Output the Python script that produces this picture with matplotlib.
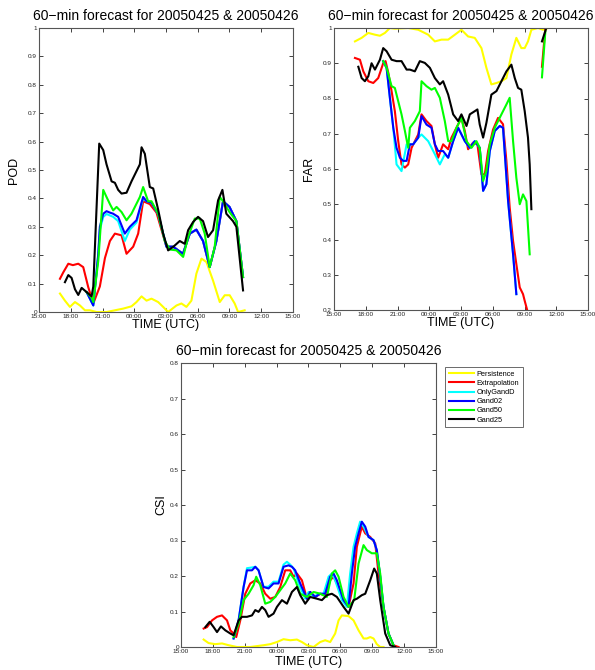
import numpy as np
import matplotlib
matplotlib.use("Agg")
import matplotlib.pyplot as plt
from matplotlib.ticker import FuncFormatter

plt.rcParams['font.family'] = ['Liberation Sans', 'DejaVu Sans']

# ---------------- data (time in hours after 15:00 UTC, 20050425) ----------------
TITLE = "60\u2212min forecast for 20050425 & 20050426"
series_names = ["Persistence", "Extrapolation", "OnlyGandD", "Gand02", "Gand50", "Gand25"]
series_colors = ["#ffff00", "#ff0000", "#00ffff", "#0000ff", "#00ff00", "#000000"]
xtick_hours = [0, 3, 6, 9, 12, 15, 18, 21, 24]
xtick_labels = ["15:00", "18:00", "21:00", "00:00", "03:00", "06:00", "09:00", "12:00", "15:00"]

# ---- POD ----
pod_pers_t = [1.98, 2.45, 2.92, 3.40, 3.87, 4.34, 4.81, 5.44, 6.38, 7.17, 7.96, 8.74, 9.21, 9.69, 10.16, 10.63,
              11.26, 11.73, 12.20, 12.99, 13.46, 13.93, 14.40, 14.87, 15.35, 15.82, 16.45, 17.08, 17.55, 18.02,
              18.49, 18.81, 19.43]
pod_pers_v = [0.065, 0.040, 0.018, 0.035, 0.023, 0.006, 0.006, 0.0, 0.0, 0.006, 0.012, 0.020, 0.035, 0.055, 0.040,
              0.047, 0.035, 0.018, 0.0, 0.023, 0.030, 0.018, 0.040, 0.135, 0.188, 0.176, 0.110, 0.035, 0.059, 0.059,
              0.030, 0.0, 0.006]
pod_extr_t = [1.98, 2.30, 2.77, 3.20, 3.71, 4.18, 4.65, 5.13, 5.75, 6.23, 6.70, 7.17, 7.80, 8.27, 8.90, 9.37, 9.84,
              10.47, 11.10, 12.04, 12.67, 13.60, 14.25, 14.87, 15.50, 16.13, 16.76, 17.39, 18.00, 18.65, 19.28]
pod_extr_v = [0.117, 0.140, 0.170, 0.165, 0.170, 0.158, 0.088, 0.030, 0.090, 0.190, 0.250, 0.276, 0.270, 0.205,
              0.230, 0.276, 0.390, 0.380, 0.350, 0.230, 0.230, 0.205, 0.276, 0.290, 0.250, 0.158, 0.250, 0.390,
              0.370, 0.320, 0.123]
pod_only_t = [4.50, 5.13, 5.60, 5.75, 6.07, 6.38, 6.70, 7.01, 7.48, 8.11, 8.58, 9.21, 9.84, 10.16, 10.63, 11.26,
              12.04, 12.67, 13.60, 14.25, 14.87, 15.50, 16.13, 16.76, 17.39, 18.00, 18.65, 19.28]
pod_only_v = [0.070, 0.023, 0.200, 0.290, 0.335, 0.345, 0.340, 0.335, 0.320, 0.250, 0.290, 0.315, 0.400, 0.390,
              0.385, 0.345, 0.230, 0.230, 0.205, 0.276, 0.290, 0.250, 0.158, 0.250, 0.390, 0.370, 0.320, 0.123]
pod_g02_t = [4.50, 5.13, 5.60, 5.75, 6.07, 6.38, 6.70, 7.01, 7.48, 8.11, 8.58, 9.21, 9.84, 10.16, 10.63, 11.26,
             12.04, 12.67, 13.60, 14.25, 14.87, 15.50, 16.13, 16.76, 17.39, 18.00, 18.65, 19.28]
pod_g02_v = [0.070, 0.023, 0.205, 0.300, 0.346, 0.355, 0.350, 0.346, 0.335, 0.276, 0.300, 0.323, 0.405, 0.390,
             0.385, 0.345, 0.230, 0.230, 0.205, 0.276, 0.290, 0.250, 0.158, 0.250, 0.390, 0.370, 0.320, 0.123]
pod_g50_t = [4.50, 4.97, 5.13, 5.60, 6.07, 6.38, 6.70, 7.01, 7.33, 7.80, 8.27, 8.74, 9.53, 9.84, 10.31, 10.63,
             11.26, 11.89, 12.36, 12.99, 13.62, 14.09, 14.72, 15.19, 15.66, 16.13, 16.60, 17.08, 17.39, 18.00,
             18.65, 19.28]
pod_g50_v = [0.070, 0.050, 0.035, 0.180, 0.430, 0.405, 0.380, 0.358, 0.370, 0.352, 0.323, 0.346, 0.405, 0.440,
             0.390, 0.390, 0.346, 0.250, 0.220, 0.217, 0.194, 0.264, 0.329, 0.329, 0.276, 0.158, 0.229, 0.405,
             0.390, 0.352, 0.320, 0.123]
pod_g25_t = [2.45, 2.77, 3.08, 3.40, 3.71, 4.03, 4.50, 4.97, 5.13, 5.69, 6.07, 6.38, 6.86, 7.17, 7.48, 7.80, 8.27,
             8.74, 9.53, 9.69, 10.00, 10.47, 10.79, 11.26, 11.73, 12.20, 12.67, 13.30, 13.77, 14.09, 14.56, 15.03,
             15.50, 15.97, 16.45, 16.92, 17.33, 17.70, 18.33, 18.65, 19.28]
pod_g25_v = [0.105, 0.130, 0.120, 0.080, 0.060, 0.085, 0.070, 0.055, 0.090, 0.593, 0.570, 0.520, 0.460, 0.455,
             0.430, 0.417, 0.420, 0.460, 0.520, 0.580, 0.557, 0.440, 0.435, 0.360, 0.276, 0.217, 0.229, 0.250,
             0.240, 0.288, 0.317, 0.335, 0.320, 0.264, 0.288, 0.393, 0.430, 0.346, 0.320, 0.300, 0.076]

# ---- FAR (nan = no value) ----
far_pers_t = [1.98, 2.61, 3.24, 3.87, 4.34, 4.81, 5.28, 5.75, 7.01, 7.96, 8.90, 9.53, 10.16, 10.79, 11.42, 12.04,
              12.67, 13.30, 13.93, 14.40, 14.87, 15.35, 15.82, 16.29, 16.76, 17.23, 17.70, 18.02, 18.33, 18.65,
              19.28, 19.75, 20.22]
far_pers_v = [0.962, 0.972, 0.986, 0.981, 0.978, 0.986, 1.000, 0.998, 1.000, 0.995, 0.981, 0.962, 0.967, 0.967,
              0.981, 0.995, 0.976, 0.972, 0.943, 0.887, 0.840, 0.844, 0.849, 0.858, 0.925, 0.972, 0.943, 0.943,
              0.962, 0.995, 1.000, 0.995, 1.000]
far_extr_t = [1.98, 2.45, 2.77, 3.24, 3.71, 4.18, 4.65, 4.87, 5.13, 5.44, 5.75, 6.07, 6.38, 6.70, 7.01, 7.33, 7.64,
              7.96, 8.27, 8.74, 9.21, 9.53, 9.84, 10.31, 10.79, 11.10, 11.57, 12.04, 12.36, 12.67, 13.14, 13.55,
              13.93, 14.25, 14.56, 15.03, 15.50, 15.97, 16.29, 16.60, 16.92, 17.23, 17.55, 17.86, 18.02, 18.27,
              19.00, 19.65, 19.97]
far_extr_v = [0.915, 0.910, 0.877, 0.849, 0.844, 0.858, 0.900, 0.906, 0.873, 0.821, 0.764, 0.679, 0.613, 0.604,
              0.613, 0.660, 0.679, 0.698, 0.755, 0.736, 0.722, 0.670, 0.632, 0.670, 0.656, 0.689, 0.717, 0.745,
              0.708, 0.656, 0.675, 0.670, 0.585, 0.585, 0.651, 0.712, 0.745, 0.727, 0.623, 0.491, 0.396, 0.330,
              0.264, 0.245, 0.226, 0.198, np.nan, 0.890, 1.000]
far_only_t = [4.65, 4.97, 5.28, 5.60, 5.91, 6.38, 6.86, 7.48, 7.96, 8.27, 8.90, 9.53, 10.00, 10.47, 10.79, 11.26,
              11.73, 12.36, 12.83, 13.30, 13.77, 14.09, 14.40, 14.72, 15.19, 15.66, 15.97, 16.45, 16.92, 17.23]
far_only_v = [0.906, 0.887, 0.802, 0.717, 0.613, 0.594, 0.670, 0.670, 0.689, 0.698, 0.679, 0.642, 0.613, 0.642,
              0.632, 0.679, 0.717, 0.679, 0.660, 0.679, 0.660, 0.538, 0.557, 0.651, 0.708, 0.722, 0.717, 0.509,
              0.358, 0.245]
far_g02_t = [4.65, 4.97, 5.28, 5.60, 5.91, 6.23, 6.54, 6.86, 7.17, 7.48, 7.96, 8.27, 8.74, 9.21, 9.53, 9.84, 10.31,
             10.79, 11.26, 11.73, 12.36, 12.83, 13.30, 13.77, 14.09, 14.40, 14.72, 15.19, 15.66, 15.97, 16.45,
             16.92, 17.23]
far_g02_v = [0.906, 0.887, 0.802, 0.717, 0.660, 0.632, 0.623, 0.623, 0.670, 0.670, 0.689, 0.750, 0.726, 0.717,
             0.670, 0.651, 0.651, 0.632, 0.679, 0.717, 0.679, 0.660, 0.679, 0.660, 0.538, 0.557, 0.651, 0.708,
             0.722, 0.717, 0.509, 0.358, 0.245]
far_g50_t = [4.65, 4.97, 5.44, 5.75, 6.07, 6.38, 6.70, 7.01, 7.17, 7.64, 8.11, 8.27, 8.74, 9.21, 9.53, 10.00, 10.47,
             10.79, 11.10, 11.57, 12.04, 12.52, 12.99, 13.46, 13.77, 14.09, 14.40, 14.72, 15.19, 15.82, 16.29,
             16.60, 16.92, 17.23, 17.55, 17.86, 18.18, 18.49, 19.00, 19.65, 19.97]
far_g50_v = [0.906, 0.887, 0.835, 0.830, 0.792, 0.755, 0.708, 0.660, 0.717, 0.736, 0.764, 0.849, 0.835, 0.825,
             0.830, 0.802, 0.736, 0.679, 0.679, 0.717, 0.745, 0.679, 0.660, 0.679, 0.660, 0.566, 0.594, 0.670,
             0.717, 0.755, 0.783, 0.802, 0.679, 0.575, 0.500, 0.528, 0.509, 0.358, np.nan, 0.860, 0.990]
far_g25_t = [2.30, 2.61, 2.92, 3.24, 3.55, 3.87, 4.34, 4.65, 4.97, 5.44, 5.91, 6.38, 6.86, 7.17, 7.64, 8.11, 8.58,
             9.06, 9.53, 10.00, 10.31, 10.79, 11.26, 11.73, 12.04, 12.52, 12.83, 13.30, 13.55, 13.77, 14.09, 14.40,
             14.87, 15.35, 15.82, 16.29, 16.76, 17.08, 17.39, 17.70, 18.02, 18.33, 18.49, 18.65, 19.00, 19.65,
             20.06]
far_g25_v = [0.890, 0.858, 0.849, 0.863, 0.900, 0.882, 0.910, 0.943, 0.934, 0.910, 0.906, 0.906, 0.882, 0.882,
             0.877, 0.906, 0.901, 0.887, 0.858, 0.840, 0.849, 0.811, 0.755, 0.736, 0.755, 0.722, 0.755, 0.764,
             0.769, 0.726, 0.689, 0.731, 0.811, 0.821, 0.849, 0.877, 0.896, 0.858, 0.830, 0.825, 0.764, 0.689,
             0.613, 0.486, np.nan, 0.962, 1.000]

# ---- CSI ----
csi_pers_t = [2.13, 2.60, 3.23, 3.86, 4.49, 5.27, 6.52, 7.77, 8.40, 9.03, 9.65, 10.28, 10.91, 11.38, 11.85, 12.48,
              13.10, 13.57, 14.04, 14.51, 14.83, 15.14, 15.77, 16.24, 16.71, 17.18, 17.49, 17.81, 18.12, 18.43,
              18.75, 19.06]
csi_pers_v = [0.021, 0.011, 0.008, 0.010, 0.005, 0.0, 0.0, 0.005, 0.008, 0.014, 0.022, 0.019, 0.021, 0.014, 0.005,
              0.0, 0.014, 0.019, 0.014, 0.038, 0.075, 0.089, 0.087, 0.075, 0.047, 0.024, 0.024, 0.028, 0.024, 0.008,
              0.0, 0.0]
csi_extr_t = [2.13, 2.45, 2.92, 3.39, 3.86, 4.33, 4.64, 4.95, 5.20, 5.58, 6.05, 6.52, 6.99, 7.46, 7.93, 8.40, 8.87,
              9.34, 9.81, 10.28, 10.60, 10.91, 11.38, 11.85, 12.16, 12.63, 13.10, 13.57, 14.04, 14.36, 14.67, 15.30,
              15.77, 16.24, 16.55, 17.02, 17.34, 17.81, 18.28, 18.59, 19.06, 19.53, 20.00, 20.47]
csi_extr_v = [0.052, 0.056, 0.075, 0.085, 0.089, 0.075, 0.047, 0.038, 0.028, 0.075, 0.150, 0.179, 0.188, 0.179,
              0.150, 0.136, 0.141, 0.169, 0.216, 0.216, 0.198, 0.207, 0.188, 0.136, 0.155, 0.141, 0.150, 0.146,
              0.188, 0.198, 0.179, 0.132, 0.113, 0.179, 0.282, 0.339, 0.320, 0.310, 0.292, 0.207, 0.113, 0.038,
              0.005, 0.0]
csi_only_t = [4.95, 5.42, 5.89, 6.21, 6.68, 6.99, 7.30, 7.77, 8.24, 8.71, 9.18, 9.65, 9.97, 10.28, 10.60, 11.07,
              11.69, 12.01, 12.48, 12.95, 13.42, 13.89, 14.20, 14.51, 15.14, 15.61, 15.92, 16.24, 16.55, 16.86,
              17.18, 17.65, 18.12, 18.43, 18.75, 19.06, 19.53, 20.00]
csi_only_v = [0.024, 0.075, 0.169, 0.222, 0.224, 0.226, 0.216, 0.169, 0.170, 0.184, 0.184, 0.232, 0.240, 0.232,
              0.221, 0.179, 0.136, 0.155, 0.141, 0.150, 0.150, 0.198, 0.207, 0.188, 0.132, 0.113, 0.207, 0.282,
              0.320, 0.353, 0.339, 0.310, 0.301, 0.273, 0.198, 0.113, 0.038, 0.005]
csi_g02_t = [4.95, 5.42, 5.89, 6.21, 6.68, 6.99, 7.30, 7.77, 8.24, 8.71, 9.18, 9.65, 10.12, 10.44, 10.75, 11.22,
             11.85, 12.16, 12.63, 13.10, 13.57, 14.04, 14.36, 14.67, 15.30, 15.77, 16.08, 16.39, 16.71, 17.02,
             17.34, 17.65, 18.12, 18.43, 18.75, 19.06, 19.53, 20.00]
csi_g02_v = [0.024, 0.075, 0.169, 0.216, 0.216, 0.226, 0.216, 0.169, 0.165, 0.179, 0.179, 0.226, 0.230, 0.226,
             0.216, 0.179, 0.136, 0.155, 0.141, 0.150, 0.150, 0.198, 0.207, 0.188, 0.132, 0.113, 0.207, 0.282,
             0.320, 0.353, 0.339, 0.310, 0.301, 0.273, 0.198, 0.113, 0.038, 0.005]
csi_g50_t = [4.95, 5.42, 5.89, 6.36, 6.83, 7.08, 7.46, 7.93, 8.40, 8.87, 9.34, 9.81, 10.28, 10.75, 11.22, 11.85,
             12.48, 13.10, 13.73, 14.20, 14.51, 14.83, 15.30, 15.77, 16.30, 16.71, 17.18, 17.49, 17.96, 18.43,
             18.75, 19.06, 19.53, 20.00]
csi_g50_v = [0.028, 0.066, 0.132, 0.150, 0.174, 0.198, 0.174, 0.122, 0.127, 0.141, 0.160, 0.179, 0.207, 0.188,
             0.150, 0.141, 0.155, 0.150, 0.141, 0.207, 0.216, 0.198, 0.141, 0.113, 0.132, 0.235, 0.287, 0.273,
             0.264, 0.264, 0.207, 0.113, 0.038, 0.005]
csi_g25_t = [2.29, 2.70, 3.07, 3.39, 3.76, 4.17, 4.64, 4.95, 5.42, 5.74, 6.21, 6.68, 6.99, 7.30, 7.62, 7.93, 8.24,
             8.71, 9.03, 9.50, 9.97, 10.44, 10.91, 11.22, 11.69, 12.16, 12.79, 13.26, 13.73, 14.20, 14.67, 15.30,
             15.77, 16.24, 16.55, 17.02, 17.34, 17.81, 18.18, 18.43, 18.75, 19.22, 19.69, 20.16]
csi_g25_v = [0.056, 0.071, 0.056, 0.042, 0.058, 0.047, 0.038, 0.033, 0.075, 0.085, 0.085, 0.089, 0.104, 0.099,
             0.113, 0.104, 0.085, 0.094, 0.113, 0.132, 0.122, 0.155, 0.169, 0.146, 0.122, 0.141, 0.136, 0.132,
             0.146, 0.150, 0.141, 0.113, 0.094, 0.132, 0.136, 0.146, 0.150, 0.188, 0.221, 0.207, 0.132, 0.038,
             0.005, 0.0]

# ---------------- figure ----------------
W, H = 595, 670
fig = plt.figure(figsize=(W / 100, H / 100), dpi=100)


def px_axes(left, top, right, bottom):
    return fig.add_axes([left / W, 1 - bottom / H, (right - left) / W, (bottom - top) / H])


def style(ax, ylim, yticks, ylabel, ylab_x, xlabpad=0):
    ax.set_xlim(0, 24)
    ax.set_ylim(*ylim)
    ax.set_xticks(xtick_hours)
    ax.set_xticklabels(xtick_labels)
    ax.set_yticks(yticks)
    ax.yaxis.set_major_formatter(FuncFormatter(lambda v, p: "%g" % round(v, 2)))
    ax.tick_params(direction="in", top=True, right=True, length=3, width=0.6,
                   labelsize=4.6, pad=1.5, colors="#222222")
    for s in ax.spines.values():
        s.set_linewidth(0.8)
        s.set_color("#555555")
    ax.set_title(TITLE, fontsize=10, pad=6)
    ax.set_xlabel("TIME (UTC)", fontsize=9, labelpad=xlabpad)
    ax.set_ylabel(ylabel, fontsize=9)
    ax.yaxis.set_label_coords(ylab_x, 0.5)


def draw(ax, pairs):
    handles = []
    for (t, v), c, n in zip(pairs, series_colors, series_names):
        h, = ax.plot(t, v, color=c, lw=1.5, label=n, solid_joinstyle="round")
        handles.append(h)
    return handles


ax1 = px_axes(39, 28, 293, 312)
draw(ax1, [(pod_pers_t, pod_pers_v), (pod_extr_t, pod_extr_v), (pod_only_t, pod_only_v),
           (pod_g02_t, pod_g02_v), (pod_g50_t, pod_g50_v), (pod_g25_t, pod_g25_v)])
style(ax1, (0, 1), np.round(np.arange(0, 1.01, 0.1), 1), "POD", -0.075)

ax2 = px_axes(334, 28, 588, 310)
draw(ax2, [(far_pers_t, far_pers_v), (far_extr_t, far_extr_v), (far_only_t, far_only_v),
           (far_g02_t, far_g02_v), (far_g50_t, far_g50_v), (far_g25_t, far_g25_v)])
style(ax2, (0.2, 1), np.round(np.arange(0.2, 1.01, 0.1), 1), "FAR", -0.075)

ax3 = px_axes(181, 363, 436, 647)
hs = draw(ax3, [(csi_pers_t, csi_pers_v), (csi_extr_t, csi_extr_v), (csi_only_t, csi_only_v),
                (csi_g02_t, csi_g02_v), (csi_g50_t, csi_g50_v), (csi_g25_t, csi_g25_v)])
style(ax3, (0, 0.8), np.round(np.arange(0, 0.81, 0.1), 1), "CSI", -0.052, xlabpad=1.5)

leg = fig.legend(hs, series_names, loc="upper left", bbox_to_anchor=(445 / W, 1 - 367 / H),
                 fontsize=5.3, handlelength=3.4, handletextpad=0.4, labelspacing=0.27,
                 borderpad=0.5, borderaxespad=0, frameon=True, fancybox=False)
leg.get_frame().set_edgecolor("#444444")
leg.get_frame().set_linewidth(0.7)

fig.savefig("out.png", dpi=100)
